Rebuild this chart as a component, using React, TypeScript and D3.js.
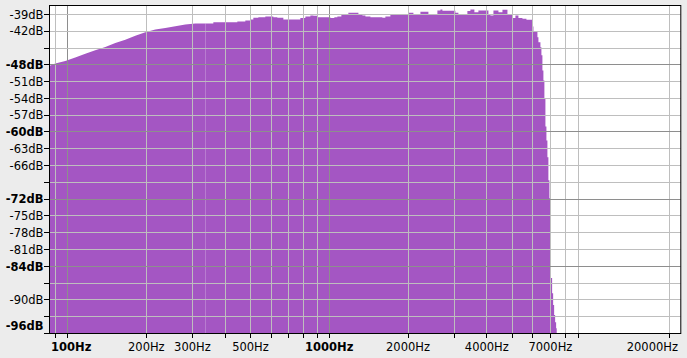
import React, { useEffect, useRef } from "react";
import * as d3 from "d3";

// Smooth low-frequency ramp (Hz, dB)
const rampFreq = [85.1, 89.7, 98.0, 107.0, 116.9, 127.6, 139.4, 152.2, 166.2, 181.5, 198.2, 216.4, 236.3, 258.1, 281.8, 307.7, 336.1];
const rampDb = [-48.2, -47.75, -47.3, -46.7, -46.0, -45.4, -44.8, -44.1, -43.5, -42.8, -42.2, -41.7, -41.4, -41.1, -40.8, -40.6, -40.6];

// Stepped spectrum bins (start frequency in Hz, level in dB)
const binFreq = [
  336.1, 360.6, 445.4, 477.9, 499.4, 512.8, 535.8, 569.8, 611.4, 633.3, 667.7, 775.5, 810.4, 846.9, 869.6, 900.7,
  1009.8, 1045.9, 1074.0, 1112.5, 1142.4, 1183.2, 1292.6, 1338.9, 1374.6, 1436.5, 1595.9, 1638.6, 1712.4,
  2006.6, 2096.9, 2230.4, 2392.7, 2500.3, 2589.9, 2659.4, 2706.6, 3033.9, 3115.3, 3372.0, 3462.5, 3586.1,
  3715.1, 4057.5, 4129.4, 4240.3, 4431.4, 4590.3, 4796.9, 5010.6, 5145.0, 5283.1, 5473.1, 5669.3, 5976.6,
  6029.0, 6245.0, 6300.0, 6412.0, 6468, 6525, 6582, 6640, 6700, 6759, 6818, 6878, 6939, 7001, 7107, 7171,
  7234, 7298, 7362, 7400,
];
const binDb = [
  -40.6, -40.4, -40.25, -40.1, -39.9, -39.6, -39.5, -39.35, -39.5, -39.6, -39.9, -39.65, -39.35, -39.2, -39.25, -39.5,
  -39.65, -39.5, -39.35, -39.1, -38.9, -38.7, -39.0, -39.2, -39.35, -39.5, -39.6, -39.35, -39.0,
  -38.7, -38.95, -38.5, -39.1, -38.9, -38.3, -38.1, -38.35, -38.7, -38.9, -38.4, -38.1, -38.6,
  -38.3, -38.9, -39.2, -38.3, -38.6, -38.15, -39.0, -39.65, -39.2, -39.65, -39.75, -39.95, -41.15,
  -42.0, -43.05, -43.95, -44.85, -46.3, -49.0, -50.8, -54.0, -59.0, -61.5, -64.5, -68.6, -71.85, -86.1, -88.8, -90.9,
  -92.7, -94.0, -95.05, -120,
];

// Axis ticks
const dbTicks = [-39, -42, -45, -48, -51, -54, -57, -60, -63, -66, -69, -72, -75, -78, -81, -84, -87, -90, -93, -96];
const dbLabeled = [-39, -42, -48, -51, -54, -57, -60, -63, -66, -72, -75, -78, -81, -84, -90, -96];
const freqTicks = [90, 100, 200, 300, 400, 500, 600, 700, 800, 900, 1000, 2000, 3000, 4000, 5000, 6000, 7000, 8000, 9000, 20000];
const freqLabeled = [100, 200, 300, 500, 1000, 2000, 4000, 7000, 20000];
const freqMajor = [100, 1000];

const W = 687;
const H = 358;

export default function App() {
  const ref = useRef<SVGSVGElement>(null);

  useEffect(() => {
    const svg = d3.select(ref.current);
    svg.selectAll("*").remove();

    const left = 49.5, right = 680.8, top = 5.5, bottom = 333.5;
    const x = d3.scaleLog().domain([85.3, 22050]).range([left, right]);
    const y = d3.scaleLinear().domain([-96, -37.4]).range([bottom, top]);

    svg.append("rect").attr("width", W).attr("height", H).attr("fill", "#ececec");
    svg.append("rect").attr("x", left).attr("y", top).attr("width", right - left).attr("height", bottom - top).attr("fill", "#ffffff");

    svg.append("clipPath").attr("id", "plotclip")
      .append("rect").attr("x", left).attr("y", top).attr("width", right - left).attr("height", bottom - top);

    const fill = "#a456c3";
    const g = svg.append("g").attr("clip-path", "url(#plotclip)");

    const rampData = rampFreq.map((f, i) => [f, rampDb[i]] as [number, number]);
    const binData = binFreq.map((f, i) => [f, binDb[i]] as [number, number]);

    const areaLin = d3.area<[number, number]>()
      .x((d) => x(d[0]))
      .y0(bottom)
      .y1((d) => y(Math.max(d[1], -100)))
      .curve(d3.curveLinear);
    const areaStep = d3.area<[number, number]>()
      .x((d) => x(d[0]))
      .y0(bottom)
      .y1((d) => y(Math.max(d[1], -100)))
      .curve(d3.curveStepAfter);

    g.append("path").attr("d", areaLin(rampData) as string).attr("fill", fill);
    g.append("path").attr("d", areaStep(binData) as string).attr("fill", fill);

    // grid
    const minorCol = "#bebebe";
    const majorCol = "#8e8e8e";
    const snap = (v: number) => Math.round(v - 0.5) + 0.5;
    freqTicks.forEach((f) => {
      const xx = snap(x(f));
      g.append("line").attr("x1", xx).attr("x2", xx).attr("y1", top).attr("y2", bottom)
        .attr("stroke", freqMajor.includes(f) ? majorCol : minorCol).attr("stroke-width", 1);
    });
    dbTicks.forEach((d) => {
      const yy = snap(y(d));
      g.append("line").attr("x1", left).attr("x2", right).attr("y1", yy).attr("y2", yy)
        .attr("stroke", d % 12 === 0 ? majorCol : minorCol).attr("stroke-width", 1);
    });

    // frame
    svg.append("rect").attr("x", left).attr("y", top).attr("width", right - left).attr("height", bottom - top)
      .attr("fill", "none").attr("stroke", "#000").attr("stroke-width", 1);

    // y ticks and labels
    dbTicks.forEach((d) => {
      const yy = snap(y(d));
      svg.append("line").attr("x1", 44).attr("x2", left).attr("y1", yy).attr("y2", yy).attr("stroke", "#000");
    });
    dbLabeled.forEach((d) => {
      const yy = y(d);
      svg.append("text")
        .attr("x", 43.5)
        .attr("y", Math.min(yy + 4.2, 329.5))
        .attr("text-anchor", "end")
        .attr("font-family", "DejaVu Sans, sans-serif")
        .attr("font-size", 11.5)
        .attr("font-weight", d % 12 === 0 ? "bold" : "normal")
        .attr("fill", "#000")
        .text(`${d}dB`);
    });

    // x ticks and labels
    freqTicks.forEach((f) => {
      const xx = snap(x(f));
      svg.append("line").attr("x1", xx).attr("x2", xx).attr("y1", bottom).attr("y2", bottom + 4.5).attr("stroke", "#000");
    });
    freqLabeled.forEach((f) => {
      const xx = x(f);
      const t = svg.append("text")
        .attr("x", xx)
        .attr("y", 351)
        .attr("text-anchor", "middle")
        .attr("font-family", "DejaVu Sans, sans-serif")
        .attr("font-size", 11.5)
        .attr("font-weight", freqMajor.includes(f) ? "bold" : "normal")
        .attr("fill", "#000")
        .text(`${f}Hz`);
      const node = t.node() as SVGTextElement;
      const w = node.getComputedTextLength();
      let cx = xx;
      if (cx - w / 2 < 51) cx = 51 + w / 2;
      if (cx + w / 2 > 678) cx = 678 - w / 2;
      t.attr("x", cx);
    });
  }, []);

  return (
    <svg
      ref={ref}
      width={W}
      height={H}
      style={{ position: "absolute", left: 0, top: 0, display: "block" }}
    />
  );
}
